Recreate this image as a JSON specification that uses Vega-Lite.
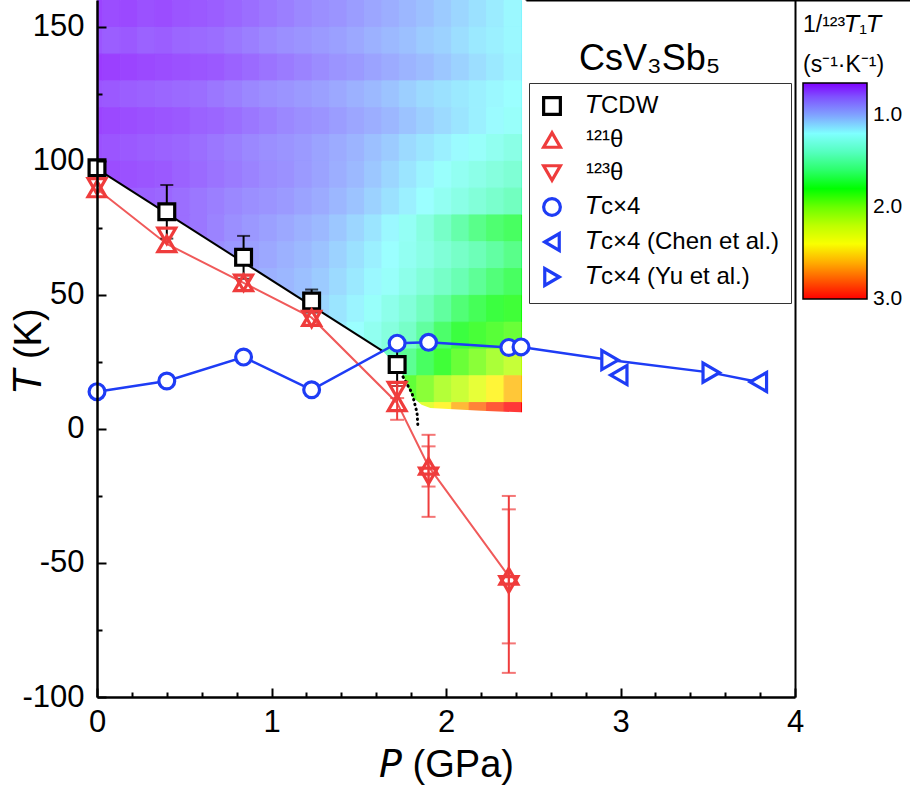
{
  "$schema": "https://vega.github.io/schema/vega-lite/v6.json",
  "width": 698,
  "height": 697,
  "autosize": {"type": "none"},
  "padding": {"left": 97, "top": 0, "right": 115, "bottom": 93},
  "background": "white",
  "config": {"font": "Liberation Sans", "view": {"stroke": null}, "axis": {"grid": false}},
  "title": {"text": "CsV₃Sb₅", "anchor": "start", "frame": "group", "dx": 482, "dy": 116, "offset": 0, "fontSize": 36, "fontWeight": "normal", "color": "black", "baseline": "alphabetic"},
  "datasets": {
    "heat": [
      {"p":-0.07,"t":150,"v":0.68},{"p":0.03,"t":150,"v":0.70},{"p":0.13,"t":150,"v":0.69},{"p":0.23,"t":150,"v":0.71},{"p":0.33,"t":150,"v":0.70},{"p":0.43,"t":150,"v":0.72},{"p":0.53,"t":150,"v":0.73},{"p":0.63,"t":150,"v":0.74},{"p":0.73,"t":150,"v":0.76},{"p":0.83,"t":150,"v":0.78},{"p":0.93,"t":150,"v":0.80},{"p":1.03,"t":150,"v":0.82},{"p":1.13,"t":150,"v":0.84},{"p":1.23,"t":150,"v":0.86},{"p":1.33,"t":150,"v":0.88},{"p":1.43,"t":150,"v":0.91},{"p":1.53,"t":150,"v":0.94},{"p":1.63,"t":150,"v":0.97},{"p":1.73,"t":150,"v":1.00},{"p":1.83,"t":150,"v":1.03},{"p":1.93,"t":150,"v":1.06},{"p":2.03,"t":150,"v":1.09},{"p":2.13,"t":150,"v":1.12},{"p":2.23,"t":150,"v":1.15},{"p":2.33,"t":150,"v":1.18},
      {"p":-0.07,"t":140,"v":0.72},{"p":0.03,"t":140,"v":0.74},{"p":0.13,"t":140,"v":0.73},{"p":0.23,"t":140,"v":0.75},{"p":0.33,"t":140,"v":0.74},{"p":0.43,"t":140,"v":0.76},{"p":0.53,"t":140,"v":0.77},{"p":0.63,"t":140,"v":0.78},{"p":0.73,"t":140,"v":0.80},{"p":0.83,"t":140,"v":0.82},{"p":0.93,"t":140,"v":0.84},{"p":1.03,"t":140,"v":0.86},{"p":1.13,"t":140,"v":0.88},{"p":1.23,"t":140,"v":0.90},{"p":1.33,"t":140,"v":0.92},{"p":1.43,"t":140,"v":0.95},{"p":1.53,"t":140,"v":0.98},{"p":1.63,"t":140,"v":1.01},{"p":1.73,"t":140,"v":1.03},{"p":1.83,"t":140,"v":1.06},{"p":1.93,"t":140,"v":1.08},{"p":2.03,"t":140,"v":1.11},{"p":2.13,"t":140,"v":1.14},{"p":2.23,"t":140,"v":1.16},{"p":2.33,"t":140,"v":1.18},
      {"p":-0.07,"t":130,"v":0.66},{"p":0.03,"t":130,"v":0.67},{"p":0.13,"t":130,"v":0.68},{"p":0.23,"t":130,"v":0.69},{"p":0.33,"t":130,"v":0.70},{"p":0.43,"t":130,"v":0.71},{"p":0.53,"t":130,"v":0.72},{"p":0.63,"t":130,"v":0.73},{"p":0.73,"t":130,"v":0.75},{"p":0.83,"t":130,"v":0.77},{"p":0.93,"t":130,"v":0.79},{"p":1.03,"t":130,"v":0.81},{"p":1.13,"t":130,"v":0.83},{"p":1.23,"t":130,"v":0.85},{"p":1.33,"t":130,"v":0.88},{"p":1.43,"t":130,"v":0.90},{"p":1.53,"t":130,"v":0.93},{"p":1.63,"t":130,"v":0.96},{"p":1.73,"t":130,"v":0.99},{"p":1.83,"t":130,"v":1.02},{"p":1.93,"t":130,"v":1.05},{"p":2.03,"t":130,"v":1.08},{"p":2.13,"t":130,"v":1.11},{"p":2.23,"t":130,"v":1.14},{"p":2.33,"t":130,"v":1.17},
      {"p":-0.07,"t":120,"v":0.72},{"p":0.03,"t":120,"v":0.73},{"p":0.13,"t":120,"v":0.74},{"p":0.23,"t":120,"v":0.75},{"p":0.33,"t":120,"v":0.76},{"p":0.43,"t":120,"v":0.77},{"p":0.53,"t":120,"v":0.78},{"p":0.63,"t":120,"v":0.80},{"p":0.73,"t":120,"v":0.82},{"p":0.83,"t":120,"v":0.84},{"p":0.93,"t":120,"v":0.86},{"p":1.03,"t":120,"v":0.88},{"p":1.13,"t":120,"v":0.90},{"p":1.23,"t":120,"v":0.92},{"p":1.33,"t":120,"v":0.95},{"p":1.43,"t":120,"v":0.98},{"p":1.53,"t":120,"v":1.01},{"p":1.63,"t":120,"v":1.04},{"p":1.73,"t":120,"v":1.07},{"p":1.83,"t":120,"v":1.10},{"p":1.93,"t":120,"v":1.12},{"p":2.03,"t":120,"v":1.14},{"p":2.13,"t":120,"v":1.16},{"p":2.23,"t":120,"v":1.18},{"p":2.33,"t":120,"v":1.20},
      {"p":-0.07,"t":110,"v":0.68},{"p":0.03,"t":110,"v":0.69},{"p":0.13,"t":110,"v":0.70},{"p":0.23,"t":110,"v":0.71},{"p":0.33,"t":110,"v":0.72},{"p":0.43,"t":110,"v":0.73},{"p":0.53,"t":110,"v":0.75},{"p":0.63,"t":110,"v":0.76},{"p":0.73,"t":110,"v":0.78},{"p":0.83,"t":110,"v":0.80},{"p":0.93,"t":110,"v":0.82},{"p":1.03,"t":110,"v":0.84},{"p":1.13,"t":110,"v":0.86},{"p":1.23,"t":110,"v":0.88},{"p":1.33,"t":110,"v":0.91},{"p":1.43,"t":110,"v":0.94},{"p":1.53,"t":110,"v":0.97},{"p":1.63,"t":110,"v":1.00},{"p":1.73,"t":110,"v":1.04},{"p":1.83,"t":110,"v":1.07},{"p":1.93,"t":110,"v":1.10},{"p":2.03,"t":110,"v":1.13},{"p":2.13,"t":110,"v":1.16},{"p":2.23,"t":110,"v":1.19},{"p":2.33,"t":110,"v":1.22},
      {"p":-0.07,"t":100,"v":0.71},{"p":0.03,"t":100,"v":0.72},{"p":0.13,"t":100,"v":0.73},{"p":0.23,"t":100,"v":0.74},{"p":0.33,"t":100,"v":0.75},{"p":0.43,"t":100,"v":0.76},{"p":0.53,"t":100,"v":0.78},{"p":0.63,"t":100,"v":0.80},{"p":0.73,"t":100,"v":0.82},{"p":0.83,"t":100,"v":0.84},{"p":0.93,"t":100,"v":0.86},{"p":1.03,"t":100,"v":0.88},{"p":1.13,"t":100,"v":0.90},{"p":1.23,"t":100,"v":0.93},{"p":1.33,"t":100,"v":0.96},{"p":1.43,"t":100,"v":0.99},{"p":1.53,"t":100,"v":1.03},{"p":1.63,"t":100,"v":1.06},{"p":1.73,"t":100,"v":1.10},{"p":1.83,"t":100,"v":1.13},{"p":1.93,"t":100,"v":1.16},{"p":2.03,"t":100,"v":1.19},{"p":2.13,"t":100,"v":1.22},{"p":2.23,"t":100,"v":1.26},{"p":2.33,"t":100,"v":1.30},
      {"p":-0.07,"t":90,"v":0.69},{"p":0.03,"t":90,"v":0.70},{"p":0.13,"t":90,"v":0.71},{"p":0.23,"t":90,"v":0.72},{"p":0.33,"t":90,"v":0.73},{"p":0.43,"t":90,"v":0.75},{"p":0.53,"t":90,"v":0.77},{"p":0.63,"t":90,"v":0.79},{"p":0.73,"t":90,"v":0.81},{"p":0.83,"t":90,"v":0.83},{"p":0.93,"t":90,"v":0.85},{"p":1.03,"t":90,"v":0.87},{"p":1.13,"t":90,"v":0.90},{"p":1.23,"t":90,"v":0.93},{"p":1.33,"t":90,"v":0.97},{"p":1.43,"t":90,"v":1.01},{"p":1.53,"t":90,"v":1.05},{"p":1.63,"t":90,"v":1.09},{"p":1.73,"t":90,"v":1.13},{"p":1.83,"t":90,"v":1.17},{"p":1.93,"t":90,"v":1.21},{"p":2.03,"t":90,"v":1.25},{"p":2.13,"t":90,"v":1.29},{"p":2.23,"t":90,"v":1.33},{"p":2.33,"t":90,"v":1.37},
      {"p":0.13,"t":80,"v":0.74},{"p":0.23,"t":80,"v":0.75},{"p":0.33,"t":80,"v":0.76},{"p":0.43,"t":80,"v":0.78},{"p":0.53,"t":80,"v":0.80},{"p":0.63,"t":80,"v":0.82},{"p":0.73,"t":80,"v":0.84},{"p":0.83,"t":80,"v":0.86},{"p":0.93,"t":80,"v":0.88},{"p":1.03,"t":80,"v":0.90},{"p":1.13,"t":80,"v":0.93},{"p":1.23,"t":80,"v":0.96},{"p":1.33,"t":80,"v":1.00},{"p":1.43,"t":80,"v":1.04},{"p":1.53,"t":80,"v":1.08},{"p":1.63,"t":80,"v":1.12},{"p":1.73,"t":80,"v":1.16},{"p":1.83,"t":80,"v":1.20},{"p":1.93,"t":80,"v":1.25},{"p":2.03,"t":80,"v":1.30},{"p":2.13,"t":80,"v":1.35},{"p":2.23,"t":80,"v":1.40},{"p":2.33,"t":80,"v":1.45},
      {"p":0.33,"t":70,"v":0.76},{"p":0.43,"t":70,"v":0.78},{"p":0.53,"t":70,"v":0.80},{"p":0.63,"t":70,"v":0.83},{"p":0.73,"t":70,"v":0.86},{"p":0.83,"t":70,"v":0.89},{"p":0.93,"t":70,"v":0.92},{"p":1.03,"t":70,"v":0.95},{"p":1.13,"t":70,"v":0.98},{"p":1.23,"t":70,"v":1.01},{"p":1.33,"t":70,"v":1.05},{"p":1.43,"t":70,"v":1.09},{"p":1.53,"t":70,"v":1.13},{"p":1.63,"t":70,"v":1.18},{"p":1.73,"t":70,"v":1.24},{"p":1.83,"t":70,"v":1.32},{"p":1.93,"t":70,"v":1.42},{"p":2.03,"t":70,"v":1.52},{"p":2.13,"t":70,"v":1.60},{"p":2.23,"t":70,"v":1.66},{"p":2.33,"t":70,"v":1.70},
      {"p":0.63,"t":60,"v":0.86},{"p":0.73,"t":60,"v":0.89},{"p":0.83,"t":60,"v":0.92},{"p":0.93,"t":60,"v":0.95},{"p":1.03,"t":60,"v":0.98},{"p":1.13,"t":60,"v":1.01},{"p":1.23,"t":60,"v":1.04},{"p":1.33,"t":60,"v":1.08},{"p":1.43,"t":60,"v":1.12},{"p":1.53,"t":60,"v":1.16},{"p":1.63,"t":60,"v":1.20},{"p":1.73,"t":60,"v":1.25},{"p":1.83,"t":60,"v":1.30},{"p":1.93,"t":60,"v":1.36},{"p":2.03,"t":60,"v":1.42},{"p":2.13,"t":60,"v":1.48},{"p":2.23,"t":60,"v":1.54},{"p":2.33,"t":60,"v":1.60},
      {"p":0.83,"t":50,"v":0.95},{"p":0.93,"t":50,"v":0.98},{"p":1.03,"t":50,"v":1.00},{"p":1.13,"t":50,"v":1.03},{"p":1.23,"t":50,"v":1.06},{"p":1.33,"t":50,"v":1.10},{"p":1.43,"t":50,"v":1.14},{"p":1.53,"t":50,"v":1.18},{"p":1.63,"t":50,"v":1.22},{"p":1.73,"t":50,"v":1.28},{"p":1.83,"t":50,"v":1.35},{"p":1.93,"t":50,"v":1.42},{"p":2.03,"t":50,"v":1.50},{"p":2.13,"t":50,"v":1.57},{"p":2.23,"t":50,"v":1.64},{"p":2.33,"t":50,"v":1.70},
      {"p":1.13,"t":40,"v":1.06},{"p":1.23,"t":40,"v":1.09},{"p":1.33,"t":40,"v":1.13},{"p":1.43,"t":40,"v":1.17},{"p":1.53,"t":40,"v":1.22},{"p":1.63,"t":40,"v":1.28},{"p":1.73,"t":40,"v":1.35},{"p":1.83,"t":40,"v":1.45},{"p":1.93,"t":40,"v":1.55},{"p":2.03,"t":40,"v":1.65},{"p":2.13,"t":40,"v":1.72},{"p":2.23,"t":40,"v":1.78},{"p":2.33,"t":40,"v":1.82},
      {"p":1.33,"t":30,"v":1.15},{"p":1.43,"t":30,"v":1.20},{"p":1.53,"t":30,"v":1.26},{"p":1.63,"t":30,"v":1.33},{"p":1.73,"t":30,"v":1.42},{"p":1.83,"t":30,"v":1.55},{"p":1.93,"t":30,"v":1.68},{"p":2.03,"t":30,"v":1.78},{"p":2.13,"t":30,"v":1.84},{"p":2.23,"t":30,"v":1.88},{"p":2.33,"t":30,"v":1.92},
      {"p":1.53,"t":20,"v":1.35},{"p":1.63,"t":20,"v":1.45},{"p":1.73,"t":20,"v":1.58},{"p":1.83,"t":20,"v":1.70},{"p":1.93,"t":20,"v":1.82},{"p":2.03,"t":20,"v":1.92},{"p":2.13,"t":20,"v":2.00},{"p":2.23,"t":20,"v":2.08},{"p":2.33,"t":20,"v":2.18},
      {"p":1.73,"t":10,"v":1.90},{"p":1.83,"t":10,"v":2.00},{"p":1.93,"t":10,"v":2.10},{"p":2.03,"t":10,"v":2.20},{"p":2.13,"t":10,"v":2.32},{"p":2.23,"t":10,"v":2.45},{"p":2.33,"t":10,"v":2.58},
      {"p":1.73,"t":0,"v":2.20},{"p":1.83,"t":0,"v":2.30},{"p":1.93,"t":0,"v":2.45},{"p":2.03,"t":0,"v":2.62},{"p":2.13,"t":0,"v":2.78},{"p":2.23,"t":0,"v":2.90},{"p":2.33,"t":0,"v":3.00}
    ],
    "mask": [
      {"p":-0.1,"t":101.2},{"p":1.64,"t":28.9},{"p":1.74,"t":22},{"p":1.77,"t":17.5},{"p":1.805,"t":12},{"p":1.86,"t":9},{"p":1.91,"t":7.8},{"p":2.2,"t":6.8},{"p":2.5,"t":6}
    ],
    "fit": [{"p":0,"t":97},{"p":1.64,"t":28.9}],
    "dots": [{"p":1.754,"t":19.4},{"p":1.805,"t":13.4},{"p":1.834,"t":6},{"p":1.84,"t":0}],
    "pts": [
      {"s":"TCDW","p":0,"t":97.4},
      {"s":"TCDW","p":0.4,"t":81,"e":10},
      {"s":"TCDW","p":0.84,"t":64,"e":8},
      {"s":"TCDW","p":1.23,"t":47.7,"e":4.3},
      {"s":"TCDW","p":1.72,"t":24,"e":8},
      {"s":"Tc","p":0,"t":13.9},
      {"s":"Tc","p":0.4,"t":17.9},
      {"s":"Tc","p":0.84,"t":26.8},
      {"s":"Tc","p":1.23,"t":14.6},
      {"s":"Tc","p":1.72,"t":32},
      {"s":"Tc","p":1.9,"t":32.3},
      {"s":"Tc","p":2.36,"t":30.4},
      {"s":"Tc","p":2.43,"t":30.6},
      {"s":"Chen","p":2.99,"t":20.1},
      {"s":"Chen","p":3.79,"t":17.5},
      {"s":"Yu","p":2.94,"t":25.7},
      {"s":"Yu","p":3.52,"t":21},
      {"s":"t121","p":0,"t":89.5},
      {"s":"t121","p":0.4,"t":69},
      {"s":"t121","p":0.84,"t":54.5},
      {"s":"t121","p":1.23,"t":41.5},
      {"s":"t121","p":1.72,"t":9.7,"e":6.3},
      {"s":"t121","p":1.9,"t":-14,"e":7.5},
      {"s":"t121","p":2.36,"t":-55,"e":25},
      {"s":"t123","p":0,"t":90.5},
      {"s":"t123","p":0.4,"t":72},
      {"s":"t123","p":0.84,"t":54.5},
      {"s":"t123","p":1.23,"t":41},
      {"s":"t123","p":1.72,"t":14.5,"e":3},
      {"s":"t123","p":1.9,"t":-17.5,"e":15.3},
      {"s":"t123","p":2.36,"t":-58,"e":33}
    ]
  },
  "resolve": {"axis": {"x": "independent", "y": "independent"}},
  "layer": [
    {
      "data": {"name": "heat"},
      "mark": {"type": "rect", "clip": true, "binSpacing": 0, "strokeWidth": 1},
      "encoding": {
        "x": {"field": "p", "type": "quantitative", "bin": {"binned": true, "step": 0.1}, "axis": null, "scale": {"domain": [0, 4], "nice": false, "zero": false}},
        "y": {"field": "t", "type": "quantitative", "bin": {"binned": true, "step": 10}, "axis": null, "scale": {"domain": [-100, 160], "nice": false, "zero": false}},
        "fill": {
          "field": "v", "type": "quantitative",
          "scale": {"domain": [0.65, 0.85, 1.02, 1.2, 1.5, 1.8, 2.1, 2.42, 2.65, 3.0], "range": ["#7f00ff", "#7f6cff", "#80aaff", "#7fffff", "#40ff9f", "#00ff00", "#9fff00", "#ffff00", "#ff9900", "#ff0000"], "interpolate": "rgb"},
          "legend": {
            "type": "gradient", "orient": "none", "legendX": 706, "legendY": 14, "direction": "vertical",
            "title": ["1/¹²³𝘛₁𝘛", "(s⁻¹·K⁻¹)"], "titleFontSize": 23, "titleFontWeight": "normal", "titleColor": "black", "titleLineHeight": 40, "titlePadding": 6, "titleAnchor": "start",
            "gradientLength": 216, "gradientThickness": 64, "gradientStrokeColor": "black", "gradientStrokeWidth": 1.5,
            "values": [1, 2, 3], "format": ".1f", "labelFontSize": 21, "labelColor": "black", "labelOffset": 6, "padding": 0,
            "encode": {
              "gradient": {"update": {"fill": {"gradient": "fill", "start": [0, 0], "stop": [0, 1]}}},
              "labels": {"update": {"y": {"signal": "datum.perc * 216"}, "baseline": {"value": "middle"}}}
            }
          }
        },
        "stroke": {
          "field": "v", "type": "quantitative", "legend": null,
          "scale": {"domain": [0.65, 0.85, 1.02, 1.2, 1.5, 1.8, 2.1, 2.42, 2.65, 3.001], "range": ["#7f00ff", "#7f6cff", "#80aaff", "#7fffff", "#40ff9f", "#00ff00", "#9fff00", "#ffff00", "#ff9900", "#ff0000"], "interpolate": "rgb"}
        }
      }
    },
    {
      "data": {"values": [{}]},
      "mark": {"type": "rect", "color": "white", "opacity": 0.22, "clip": true},
      "encoding": {
        "x": {"datum": 0, "axis": null},
        "x2": {"datum": 2.43},
        "y": {"datum": -3, "axis": null},
        "y2": {"datum": 160}
      }
    },
    {
      "data": {"name": "mask"},
      "mark": {"type": "area", "color": "white", "opacity": 1, "clip": true},
      "encoding": {
        "x": {"field": "p", "type": "quantitative",
          "axis": {"orient": "bottom", "zindex": 1, "values": [0,0.2,0.4,0.6,0.8,1,1.2,1.4,1.6,1.8,2,2.2,2.4,2.6,2.8,3,3.2,3.4,3.6,3.8,4],
            "labelExpr": "datum.value % 1 === 0 ? toString(datum.value) : ''",
            "tickSize": {"condition": {"test": "datum.value % 1 === 0", "value": -9}, "value": -5},
            "tickWidth": 2, "tickColor": "black", "domainColor": "black", "domainWidth": 2.5,
            "labelFontSize": 31, "labelColor": "black", "labelPadding": 19, "labelFlush": false, "labelOverlap": false,
            "title": "𝘗 (GPa)", "titleFontSize": 38, "titleFontWeight": "normal", "titleColor": "black", "titleX": 349, "titleY": 79, "titleBaseline": "alphabetic", "titleAlign": "center"}},
        "y": {"field": "t", "type": "quantitative",
          "axis": {"orient": "left", "zindex": 1, "values": [-100,-75,-50,-25,0,25,50,75,100,125,150],
            "labelExpr": "datum.value % 50 === 0 ? toString(datum.value) : ''",
            "tickSize": {"condition": {"test": "datum.value % 50 === 0", "value": -9}, "value": -5},
            "tickWidth": 2, "tickColor": "black", "domainColor": "black", "domainWidth": 2.5,
            "labelFontSize": 31, "labelColor": "black", "labelPadding": 22, "labelFlush": false, "labelOverlap": false,
            "title": "𝘛 (K)", "titleFontSize": 38, "titleFontWeight": "normal", "titleColor": "black", "titleX": -57, "titleY": 350, "titleAngle": 270, "titleBaseline": "alphabetic", "titleAlign": "center"}},
        "y2": {"datum": -3}
      }
    },
    {
      "data": {"name": "fit"},
      "mark": {"type": "line", "color": "black", "strokeWidth": 2},
      "encoding": {
        "x": {"field": "p", "type": "quantitative",
          "axis": {"orient": "top", "position": 428.9, "zindex": 1, "values": [0,0.2,0.4,0.6,0.8,1,1.2,1.4,1.6,1.8,2,2.2,2.4,2.6,2.8,3,3.2,3.4,3.6,3.8,4],
            "labels": false, "title": null,
            "tickSize": {"condition": {"test": "datum.value % 1 === 0", "value": 9}, "value": 5},
            "tickWidth": 2, "tickColor": "black", "domainColor": "black", "domainWidth": 2}},
        "y": {"field": "t", "type": "quantitative",
          "axis": {"orient": "right", "zindex": 1, "ticks": false, "labels": false, "title": null, "domainColor": "black", "domainWidth": 2}}
      }
    },
    {
      "data": {"name": "dots"},
      "mark": {"type": "line", "color": "black", "strokeWidth": 3, "strokeDash": [0.5, 4.5], "strokeCap": "round"},
      "encoding": {
        "x": {"field": "p", "type": "quantitative", "axis": null},
        "y": {"field": "t", "type": "quantitative", "axis": null}
      }
    },
    {
      "data": {"name": "pts"},
      "transform": [{"filter": "datum.s === 't121'"}],
      "mark": {"type": "line", "color": "#f05a5a", "strokeWidth": 2},
      "encoding": {
        "x": {"field": "p", "type": "quantitative", "axis": null},
        "y": {"field": "t", "type": "quantitative", "axis": null}
      }
    },
    {
      "data": {"name": "pts"},
      "transform": [{"filter": "datum.s === 'Tc' || datum.s === 'Yu' || (datum.s === 'Chen' && datum.p > 3.5)"}],
      "mark": {"type": "line", "color": "#1e3cf5", "strokeWidth": 2.5},
      "encoding": {
        "x": {"field": "p", "type": "quantitative", "axis": null},
        "y": {"field": "t", "type": "quantitative", "axis": null}
      }
    },
    {
      "data": {"name": "pts"},
      "transform": [{"filter": "datum.s === 'TCDW' && datum.e > 0"}],
      "mark": {"type": "errorbar", "color": "black", "thickness": 2, "ticks": {"size": 13, "thickness": 2, "color": "black"}, "rule": {"strokeWidth": 2, "color": "black"}},
      "encoding": {
        "x": {"field": "p", "type": "quantitative", "axis": null},
        "y": {"field": "t", "type": "quantitative", "axis": null},
        "yError": {"field": "e"}
      }
    },
    {
      "data": {"name": "pts"},
      "transform": [{"filter": "(datum.s === 't121' || datum.s === 't123') && datum.e > 0"}],
      "mark": {"type": "errorbar", "color": "#ef3c3c", "thickness": 2, "ticks": {"size": 14, "thickness": 2, "color": "#ef3c3c"}, "rule": {"strokeWidth": 2, "color": "#ef3c3c"}},
      "encoding": {
        "x": {"field": "p", "type": "quantitative", "axis": null},
        "y": {"field": "t", "type": "quantitative", "axis": null},
        "yError": {"field": "e"}
      }
    },
    {
      "data": {"name": "pts"},
      "mark": {"type": "point", "filled": false, "strokeWidth": 3.2, "opacity": 1},
      "encoding": {
        "x": {"field": "p", "type": "quantitative", "axis": null},
        "y": {"field": "t", "type": "quantitative", "axis": null},
        "color": {"field": "s", "type": "nominal",
          "scale": {"domain": ["TCDW", "t121", "t123", "Tc", "Chen", "Yu"], "range": ["black", "#ef3c3c", "#ef3c3c", "#1e3cf5", "#1e3cf5", "#1e3cf5"]},
          "legend": {"orient": "none", "legendX": 432, "legendY": 83, "title": null, "padding": 11, "strokeColor": "#333333", "fillColor": "white",
            "labelExpr": "datum.value === 'TCDW' ? '𝘛CDW' : datum.value === 't121' ? '¹²¹θ' : datum.value === 't123' ? '¹²³θ' : datum.value === 'Tc' ? '𝘛c×4' : datum.value === 'Chen' ? '𝘛c×4 (Chen et al.)' : '𝘛c×4 (Yu et al.)'",
            "labelFontSize": 24, "labelColor": "black", "labelOffset": 22, "labelLimit": 400, "symbolSize": 280, "symbolStrokeWidth": 3.2, "rowPadding": 5}},
        "shape": {"field": "s", "type": "nominal",
          "scale": {"domain": ["TCDW", "t121", "t123", "Tc", "Chen", "Yu"], "range": ["square", "triangle-up", "triangle-down", "circle", "triangle-left", "triangle-right"]},
          "legend": {"orient": "none", "legendX": 432, "legendY": 83, "title": null, "padding": 11, "strokeColor": "#333333", "fillColor": "white",
            "labelExpr": "datum.value === 'TCDW' ? '𝘛CDW' : datum.value === 't121' ? '¹²¹θ' : datum.value === 't123' ? '¹²³θ' : datum.value === 'Tc' ? '𝘛c×4' : datum.value === 'Chen' ? '𝘛c×4 (Chen et al.)' : '𝘛c×4 (Yu et al.)'",
            "labelFontSize": 24, "labelColor": "black", "labelOffset": 22, "labelLimit": 400, "symbolSize": 280, "symbolStrokeWidth": 3.2, "rowPadding": 5}},
        "fill": {"condition": {"test": "datum.s === 't121' || datum.s === 't123'", "value": "transparent"}, "value": "white"},
        "size": {"condition": [{"test": "datum.s === 'Tc' || datum.s === 'TCDW'", "value": 250}, {"test": "datum.s === 'Chen' || datum.s === 'Yu'", "value": 360}], "value": 320}
      }
    }
  ]
}
